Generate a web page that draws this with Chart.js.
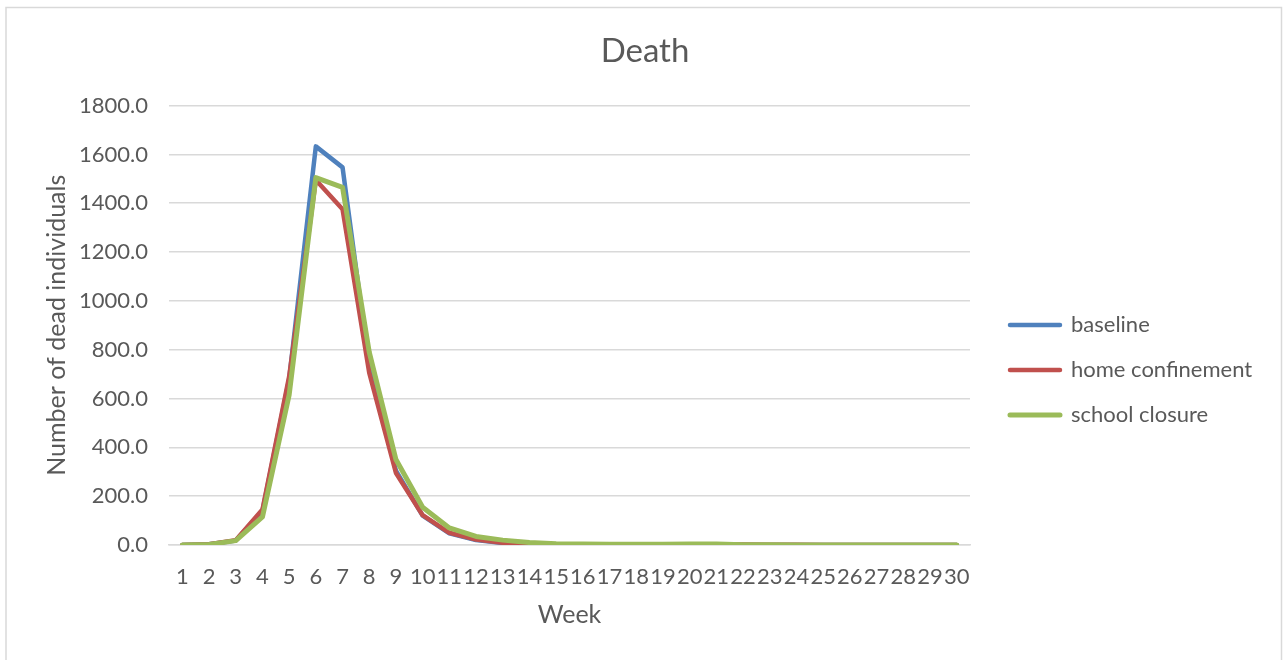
<!DOCTYPE html>
<html>
<head>
<meta charset="utf-8">
<title>Death</title>
<script src="https://cdn.jsdelivr.net/npm/chart.js@4/dist/chart.umd.min.js"></script>
<style>
  html, body { margin: 0; padding: 0; background: #ffffff; }
  #wrap { width: 1287px; height: 660px; }
</style>
</head>
<body>
<div id="wrap"><canvas id="chart-death" width="1287" height="660"></canvas></div>
<script>
// ==================================================
// DATA
// ==================================================
const weeks = ["1", "2", "3", "4", "5", "6", "7", "8", "9", "10",
  "11", "12", "13", "14", "15", "16", "17", "18", "19", "20",
  "21", "22", "23", "24", "25", "26", "27", "28", "29", "30"];

const baseline = [0, 3, 18, 140, 680, 1633, 1547, 730, 305, 120,
  48, 20, 8, 3, 1, 0.5, 0.3, 0.2, 0.1, 0.1,
  0, 0, 0, 0, 0, 0, 0, 0, 0, 0];

const homeConfinement = [0, 3, 20, 145, 690, 1495, 1375, 705, 295, 122,
  50, 22, 9, 3, 2, 1, 1, 0.5, 0.5, 0.5,
  1, 2, 1.5, 1, 0.5, 0, 0, 0, 0, 0];

const schoolClosure = [0, 2, 18, 115, 615, 1505, 1465, 790, 350, 155,
  70, 35, 20, 10, 5, 4, 3, 3, 3, 4,
  4, 1, 1, 0.5, 0.5, 0, 0, 0, 0, 0];

const yTicks = [0, 200, 400, 600, 800, 1000, 1200, 1400, 1600, 1800];

// ==================================================
// STYLE
// ==================================================
const TEXT = "#595959";
const GRID = "#d9d9d9";
const FONT = "Lato, 'Open Sans', sans-serif";

// light frame around the whole chart
const framePlugin = {
  id: "frame",
  beforeDraw(chart) {
    const ctx = chart.ctx;
    ctx.save();
    ctx.fillStyle = "#ffffff";
    ctx.fillRect(0, 0, chart.width, chart.height);
    ctx.strokeStyle = GRID;
    ctx.lineWidth = 1.5;
    ctx.strokeRect(6, 7.5, 1275.5, 700);
    ctx.restore();
  },
};

// ==================================================
// CHART
// ==================================================
const ctx = document.getElementById("chart-death").getContext("2d");

new Chart(ctx, {
  type: "line",
  data: {
    labels: weeks,
    datasets: [
      {
        label: "baseline",
        data: baseline,
        borderColor: "#4f81bd",
        backgroundColor: "#4f81bd",
        borderWidth: 4.5,
        borderCapStyle: "round",
        borderJoinStyle: "round",
        pointRadius: 0,
        tension: 0,
        order: 3,
      },
      {
        label: "home confinement",
        data: homeConfinement,
        borderColor: "#c0504d",
        backgroundColor: "#c0504d",
        borderWidth: 4.5,
        borderCapStyle: "round",
        borderJoinStyle: "round",
        pointRadius: 0,
        tension: 0,
        order: 2,
      },
      {
        label: "school closure",
        data: schoolClosure,
        borderColor: "#9bbb59",
        backgroundColor: "#9bbb59",
        borderWidth: 5,
        borderCapStyle: "round",
        borderJoinStyle: "round",
        pointRadius: 0,
        tension: 0,
        order: 1,
      },
    ],
  },
  options: {
    responsive: false,
    animation: false,
    devicePixelRatio: 1,
    layout: { padding: { left: 33, right: 30, top: 0, bottom: 0 } },
    plugins: {
      title: {
        display: true,
        text: "Death",
        color: TEXT,
        font: { family: FONT, size: 33, weight: "normal" },
        padding: { top: 32, bottom: 34 },
      },
      legend: {
        position: "right",
        align: "start",
        maxWidth: 270,
        title: {
          display: true,
          text: " ",
          font: { size: 10 },
          padding: { top: 279, bottom: 0 },
        },
        labels: {
          color: TEXT,
          font: { family: FONT, size: 22 },
          boxWidth: 50,
          boxHeight: 0,
          padding: 23,
          sort: (a, b) => a.datasetIndex - b.datasetIndex,
        },
      },
      tooltip: { enabled: false },
    },
    scales: {
      x: {
        offset: true,
        grid: { display: false, drawTicks: false },
        border: { display: true, color: GRID, width: 1.5 },
        ticks: {
          color: TEXT,
          font: { family: FONT, size: 22 },
          padding: 19,
          autoSkip: false,
          maxRotation: 0,
          minRotation: 0,
        },
        title: {
          display: true,
          text: "Week",
          color: TEXT,
          font: { family: FONT, size: 25 },
          padding: { top: 0, bottom: 30 },
        },
        afterFit(scale) {
          scale.height = 115;
        },
      },
      y: {
        min: 0,
        max: 1800,
        grid: { color: GRID, lineWidth: 1.5, drawTicks: false },
        border: { display: false },
        afterBuildTicks(scale) {
          scale.ticks = yTicks.map((v) => ({ value: v }));
        },
        ticks: {
          color: TEXT,
          font: { family: FONT, size: 22 },
          padding: 21,
          callback: (value) => Number(value).toFixed(1),
        },
        title: {
          display: true,
          text: "Number of dead individuals",
          color: TEXT,
          font: { family: FONT, size: 25 },
          padding: { top: 9, bottom: 0 },
        },
        afterFit(scale) {
          scale.width = 136;
        },
      },
      // empty axis, only keeps a gap between plot and legend
      gap: {
        axis: "y",
        position: "right",
        display: true,
        grid: { display: false, drawTicks: false },
        border: { display: false },
        ticks: { display: false },
        afterFit(scale) {
          scale.width = 17;
        },
      },
    },
  },
  plugins: [framePlugin],
});
</script>
</body>
</html>
